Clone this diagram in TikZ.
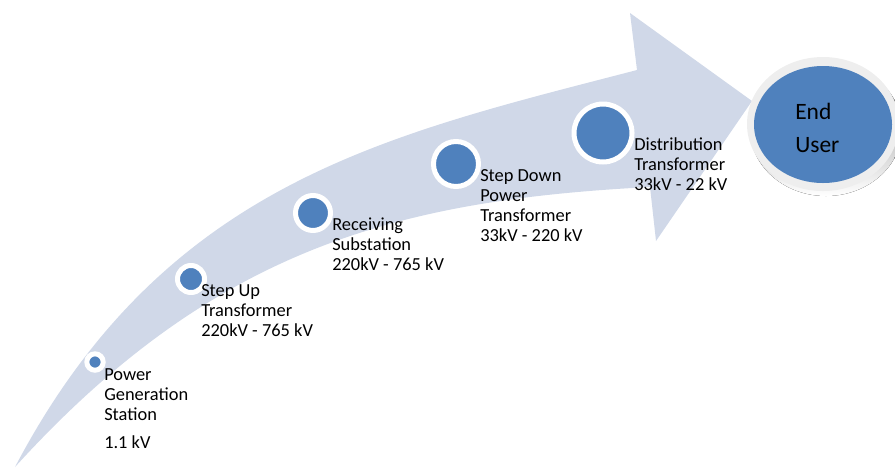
\documentclass[tikz,border=0pt]{standalone}
\usepackage{fontspec}
\setmainfont{Carlito}
\usepackage{tikz}
\usepackage{tkz-euclide}
\definecolor{band}{RGB}{208,216,232}
\definecolor{dot}{RGB}{79,129,189}
\definecolor{rim}{RGB}{238,238,238}
\definecolor{shade}{RGB}{150,158,172}
\tikzset{
	stop/.style={circle,fill=dot,draw=white,line width=3.75pt,inner sep=0pt},
	stage/.style={anchor=base west,align=left,inner sep=0pt,font=\fontsize{13.8}{15}\selectfont},
}

\begin{document}
\begin{tikzpicture}[x=0.75pt,y=-0.75pt]
			\useasboundingbox (0,0) rectangle (895,469);
			\tkzDefPoint(15,467){T}
			\tkzDefPoint(637,70){U}
			\tkzDefPoint(630,13){P}
			\tkzDefPoint(752,101){Q}
			\tkzDefPoint(656,241){R}
			\tkzDefPoint(650,187){L}
			\fill[band] (T) .. controls (165,182) and (387,135) .. (U) -- (P) -- (Q) -- (R) -- (L) .. controls (400,200) and (215,247) .. (T) -- cycle;
			\foreach \n/\x/\y/\r in {gen/95/362/5.7,up/191/279/11,rec/313/213/15,down/456/164/20,dist/603/133/26.5}{
				\node[stop,minimum size={(2*\r+5)*0.75pt}] (\n) at (\x,\y) {};
			}
			\node[stage] (gentext) at (104,448) {Power\\Generation\\Station\\[6pt]1.1 kV};
			\node[stage] (uptext) at (201,336) {Step Up\\Transformer\\220kV - 765 kV};
			\node[stage] (rectext) at (332,270) {Receiving\\Substation\\220kV - 765 kV};
			\node[stage] (downtext) at (480,241) {Step Down\\Power\\Transformer\\33kV - 220 kV};
			\node[stage] (disttext) at (634,190) {Distribution\\Transformer\\33kV - 22 kV};
			\fill[shade] (826,129) ellipse (76 and 67);
			\fill[rim] (823,124) ellipse (76 and 67);
			\fill[dot] (823,124.5) ellipse (69 and 58.5);
			\node[stage,font=\fontsize{17.6}{24.75}\selectfont] (user) at (795,152) {End\\User};
		\end{tikzpicture}
\end{document}
